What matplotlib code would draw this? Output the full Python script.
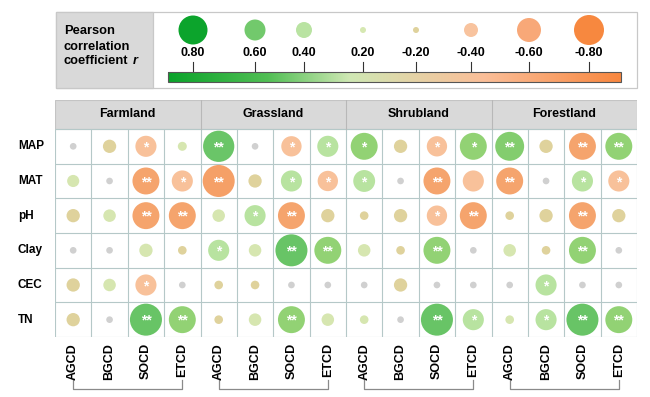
import numpy as np
import matplotlib
matplotlib.use("Agg")
import matplotlib.pyplot as plt
from matplotlib.colors import LinearSegmentedColormap
from matplotlib.patches import Rectangle

plt.rcParams['font.family'] = ['Liberation Sans', 'DejaVu Sans']

# data
groups = ['Farmland', 'Grassland', 'Shrubland', 'Forestland']
targets = ['AGCD', 'BGCD', 'SOCD', 'ETCD']
factors = ['MAP', 'MAT', 'pH', 'Clay', 'CEC', 'TN']

# r values, rows = factors, cols = 4 groups x 4 targets
r = np.array([
    [0.03, -0.20, -0.40, 0.09,   0.66, 0.03, -0.38, 0.40,   0.55, -0.20, -0.38, 0.55,   0.60, -0.20, -0.55, 0.55],
    [0.17, 0.03, -0.55, -0.40,   -0.68, -0.20, 0.40, -0.38,  0.42, 0.03, -0.55, -0.40,   -0.55, 0.03, 0.40, -0.40],
    [-0.20, 0.18, -0.55, -0.55,  0.18, 0.40, -0.55, -0.20,   -0.08, -0.20, -0.38, -0.55, -0.08, -0.20, -0.55, -0.20],
    [0.03, 0.03, 0.20, -0.08,    0.40, 0.18, 0.68, 0.55,     0.18, -0.08, 0.55, 0.03,    0.18, -0.08, 0.55, 0.03],
    [-0.20, 0.18, -0.40, 0.03,   -0.08, -0.08, 0.03, 0.03,   0.03, -0.20, 0.03, 0.03,    0.03, 0.40, 0.03, 0.03],
    [-0.20, 0.03, 0.68, 0.55,    -0.08, 0.18, 0.55, 0.18,    0.08, 0.03, 0.68, 0.40,     0.08, 0.40, 0.68, 0.55],
])
# significance: 0 none, 1 = *, 2 = **
sig = np.array([
    [0, 0, 1, 0,  2, 0, 1, 1,  1, 0, 1, 1,  2, 0, 2, 2],
    [0, 0, 2, 1,  2, 0, 1, 1,  1, 0, 2, 0,  2, 0, 1, 1],
    [0, 0, 2, 2,  0, 1, 2, 0,  0, 0, 1, 2,  0, 0, 2, 0],
    [0, 0, 0, 0,  1, 0, 2, 2,  0, 0, 2, 0,  0, 0, 2, 0],
    [0, 0, 1, 0,  0, 0, 0, 0,  0, 0, 0, 0,  0, 1, 0, 0],
    [0, 0, 2, 2,  0, 0, 2, 0,  0, 0, 2, 1,  0, 1, 2, 2],
])

legend_vals = [0.80, 0.60, 0.40, 0.20, -0.20, -0.40, -0.60, -0.80]
legend_cols = ['#0ca42c', '#72c96c', '#b9e3a2', '#d6e8b2', '#dfd29c', '#f8c39e', '#f8a878', '#f7883f']
legend_diam = [29, 21, 16, 6, 6, 14, 24, 30]
legend_x = [193, 255, 304, 363, 416, 471, 529, 589]

anchors = [(-0.8, '#f59c62'), (-0.5, '#f5a56f'), (-0.42, '#f8c19a'), (-0.3, '#f8c19a'),
           (-0.24, '#dfd29c'), (-0.06, '#dfd29c'), (-0.04, '#d0d0d0'), (0.04, '#d0d0d0'),
           (0.06, '#d6e6b0'), (0.24, '#d6e6b0'), (0.36, '#b8e3a0'), (0.44, '#b8e3a0'),
           (0.52, '#98d67a'), (0.58, '#8ed070'), (0.64, '#6cc66a'), (0.8, '#5cbf5c')]
cmap = LinearSegmentedColormap.from_list('cell', [((v + 0.8) / 1.6, c) for v, c in anchors])
bar_cmap = LinearSegmentedColormap.from_list(
    'bar', [(0, '#0aa32a'), (0.22, '#52bf55'), (0.4, '#cfe8b4'), (0.55, '#e6d2a6'),
            (0.7, '#fbbe98'), (1, '#f8873f')])

W, H = 650, 397
fig = plt.figure(figsize=(W / 100, H / 100), dpi=100)


def px2pt(d):
    return (d * 0.72) ** 2


# ---- main grid
ax = fig.add_axes([55 / W, 1 - 337 / H, 582 / W, 237 / H])
ncol = len(groups) * len(targets)
top = -0.5 - 29 / 34.7
ax.set_xlim(-0.5, ncol - 0.5)
ax.set_ylim(len(factors) - 0.5, top)
ax.axis('off')

ax.add_patch(Rectangle((-0.5, top), ncol, -0.5 - top, facecolor='#d9d9d9',
                       edgecolor='#c4c4c4', lw=0.8, zorder=0))
for k in range(1, len(groups)):
    ax.plot([k * 4 - 0.5] * 2, [top, -0.5], color='#b8b8b8', lw=0.8)
for g, name in enumerate(groups):
    ax.text(g * 4 + 1.5, (top - 0.5) / 2, name, ha='center', va='center',
            fontsize=9, fontweight='bold')

gl = '#b5c8c8'
ax.hlines(np.arange(-0.5, len(factors)), -0.5, ncol - 0.5, color=gl, lw=0.8, zorder=1)
ax.vlines(np.arange(-0.5, ncol), -0.5, len(factors) - 0.5, color=gl, lw=0.8, zorder=1)

yy, xx = np.mgrid[0:len(factors), 0:ncol]
diam = 5.5 + 39 * np.abs(r)
ax.scatter(xx.ravel(), yy.ravel(), s=px2pt(diam.ravel()), c=r.ravel(), cmap=cmap,
           vmin=-0.8, vmax=0.8, linewidths=0, zorder=2)
for i in range(len(factors)):
    for j in range(ncol):
        if sig[i, j]:
            ax.text(j, i + 0.03, '*' * sig[i, j], ha='center', va='center', color='white',
                    fontsize=10, fontweight='bold', zorder=3)

for i, f in enumerate(factors):
    ax.text(-0.5 - 37 / 36.375, i, f, ha='left', va='center', fontsize=8.5,
            fontweight='bold', clip_on=False)
for j in range(ncol):
    ax.text(j, 5.5 + 6 / 34.7, targets[j % 4], rotation=90, ha='center', va='top',
            fontsize=9, fontweight='bold', clip_on=False)
for g in range(len(groups)):
    y0, y1 = 5.5 + 43 / 34.7, 5.5 + 52 / 34.7
    ax.plot([g * 4, g * 4, g * 4 + 3, g * 4 + 3], [y0, y1, y1, y0], color='#8a8a8a',
            lw=0.9, clip_on=False)

# ---- legend
lax = fig.add_axes([0, 0, 1, 1], zorder=-1)
lax.set_xlim(0, W)
lax.set_ylim(H, 0)
lax.axis('off')
lax.add_patch(Rectangle((56, 12), 581, 76, facecolor='white', edgecolor='#c8c8c8', lw=0.9))
lax.add_patch(Rectangle((56, 12), 97, 76, facecolor='#d9d9d9', edgecolor='#c8c8c8', lw=0.9))
lax.text(64, 31, 'Pearson', fontsize=9.3, fontweight='bold', va='center')
lax.text(64, 46.5, 'correlation', fontsize=9.3, fontweight='bold', va='center')
lax.text(64, 61.5, 'coefficient', fontsize=9.3, fontweight='bold', va='center')
lax.text(133, 61.5, 'r', fontsize=9.3, fontweight='bold', style='italic', va='center')

lax.scatter(legend_x, [30] * len(legend_x), s=[px2pt(d) for d in legend_diam],
            c=legend_cols, linewidths=0)
for x, v in zip(legend_x, legend_vals):
    lax.text(x, 53, f'{v:.2f}', ha='center', va='center', fontsize=9, fontweight='bold')
    lax.plot([x, x], [62, 72], color='#333333', lw=0.8)
grad = np.linspace(0, 1, 256)[None, :]
lax.imshow(grad, cmap=bar_cmap, extent=[168, 621, 82, 72], aspect='auto', zorder=2)
lax.add_patch(Rectangle((168, 72), 453, 10, facecolor='none', edgecolor='#555555',
                        lw=0.8, zorder=3))
lax.set_xlim(0, W)
lax.set_ylim(H, 0)

fig.savefig('out.png', dpi=100)
